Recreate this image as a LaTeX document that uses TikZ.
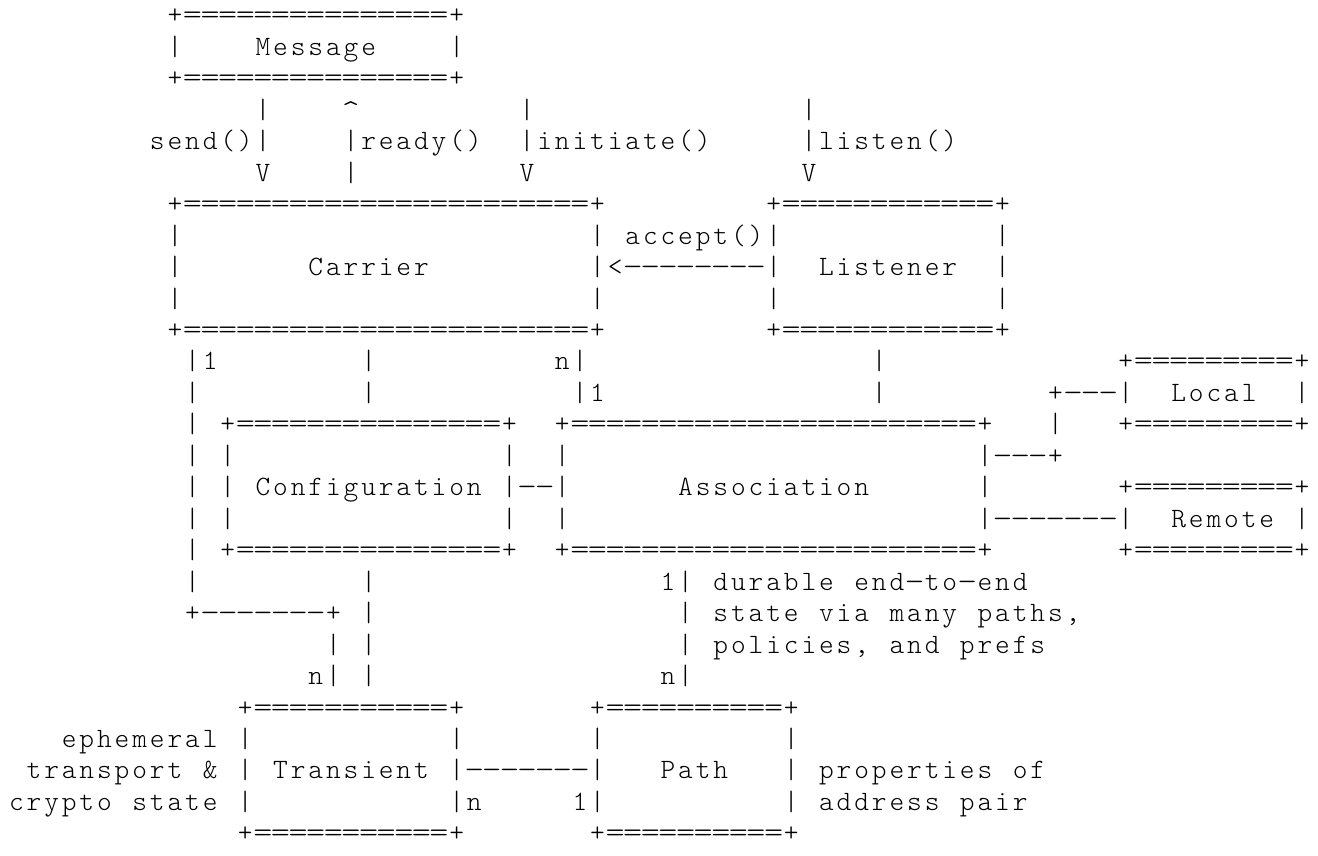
\documentclass[tikz,border=0pt]{standalone}
\usepackage{graphicx}
\usepackage{fontspec}
\newfontfamily\ascfont{lmmonolt10-regular.otf}
\tikzset{ch/.style={inner sep=0pt,outer sep=0pt,anchor=base,text=black,font=\ascfont\fontsize{28pt}{30pt}\selectfont}}
\newcommand\EQ{\scalebox{1.3}[1]{=}}
\newcommand\DS{\scalebox{1.35}[1]{-}}
\makeatletter
\newcommand\ascput[4][]{%
  \pgfmathsetmacro\asc@x{16.4+(#3)*17.61}%
  \pgfmathsetmacro\asc@y{-(23.9+((#2)-1)*31.46)}%
  \pgfmathtruncatemacro\asc@n{#3}%
  \node[ch,#1] (r#2c\asc@n) at (\asc@x pt,\asc@y pt) {#4};%
}
\newcommand\Tk[3]{%
  \def\asc@c{#2}%
  \@tfor\asc@ch:=#3\do{%
    \ascput{#1}{\asc@c}{\asc@ch}%
    \pgfmathtruncatemacro\asc@c{\asc@c+1}%
  }%
}
\newcommand\Rn[4]{%
  \foreach \asc@i in {#2,...,#3}{\ascput{#1}{\asc@i}{#4}}%
}
\newcommand\Bx[3]{%
  \ascput{#1}{#2}{+}%
  \pgfmathtruncatemacro\asc@a{#2+1}\pgfmathtruncatemacro\asc@b{#3-1}%
  \Rn{#1}{\asc@a}{\asc@b}{\EQ}%
  \ascput{#1}{#3}{+}%
}
\makeatother
\begin{document}
\begin{tikzpicture}
\fill[white] (0pt,0pt) rectangle (1318pt,-856pt);
\useasboundingbox (0pt,0pt) rectangle (1318pt,-856pt);
% Message
\Bx{1}{9}{25}
\ascput{2}{9}{|}\Tk{2}{14}{Message}\ascput{2}{25}{|}
\Bx{3}{9}{25}
\ascput{4}{14}{|}\ascput[yshift=-4pt]{4}{19}{\scalebox{1.2}{\textasciicircum}}\ascput{4}{29}{|}\ascput{4}{45}{|}
\Tk{5}{8}{send()|}\Tk{5}{19}{|ready()}\Tk{5}{29}{|initiate()}\Tk{5}{45}{|listen()}
\ascput{6}{14}{V}\ascput{6}{19}{|}\ascput{6}{29}{V}\ascput{6}{45}{V}
% Carrier and Listener
\Bx{7}{9}{33}\Bx{7}{43}{56}
\ascput{8}{9}{|}\ascput{8}{33}{|}\Tk{8}{35}{accept()|}\ascput{8}{56}{|}
\ascput{9}{9}{|}\Tk{9}{17}{Carrier}\ascput{9}{33}{|}\ascput{9}{34}{<}\Rn{9}{35}{42}{\DS}\ascput{9}{43}{|}\Tk{9}{46}{Listener}\ascput{9}{56}{|}
\ascput{10}{9}{|}\ascput{10}{33}{|}\ascput{10}{43}{|}\ascput{10}{56}{|}
\Bx{11}{9}{33}\Bx{11}{43}{56}
% links
\Tk{12}{10}{|1}\ascput{12}{20}{|}\Tk{12}{31}{n|}\ascput{12}{49}{|}\Bx{12}{63}{73}
\ascput{13}{10}{|}\ascput{13}{20}{|}\Tk{13}{32}{|1}\ascput{13}{49}{|}\ascput{13}{59}{+}\Rn{13}{60}{62}{\DS}\ascput{13}{63}{|}\Tk{13}{66}{Local}\ascput{13}{73}{|}
% Configuration and Association
\ascput{14}{10}{|}\Bx{14}{12}{28}\Bx{14}{31}{55}\ascput{14}{59}{|}\Bx{14}{63}{73}
\ascput{15}{10}{|}\ascput{15}{12}{|}\ascput{15}{28}{|}\ascput{15}{31}{|}\ascput{15}{55}{|}\Rn{15}{56}{58}{\DS}\ascput{15}{59}{+}
\ascput{16}{10}{|}\ascput{16}{12}{|}\Tk{16}{14}{Configuration}\ascput{16}{28}{|}\Rn{16}{29}{30}{\DS}\ascput{16}{31}{|}\Tk{16}{38}{Association}\ascput{16}{55}{|}\Bx{16}{63}{73}
\ascput{17}{10}{|}\ascput{17}{12}{|}\ascput{17}{28}{|}\ascput{17}{31}{|}\ascput{17}{55}{|}\Rn{17}{56}{62}{\DS}\ascput{17}{63}{|}\Tk{17}{66}{Remote}\ascput{17}{73}{|}
\ascput{18}{10}{|}\Bx{18}{12}{28}\Bx{18}{31}{55}\Bx{18}{63}{73}
% lower links
\ascput{19}{10}{|}\ascput{19}{20}{|}\Tk{19}{37}{1|}\Tk{19}{40}{durable}\Tk{19}{48}{end{\DS}to{\DS}end}
\ascput{20}{10}{+}\Rn{20}{11}{17}{\DS}\ascput{20}{18}{+}\ascput{20}{20}{|}\ascput{20}{38}{|}\Tk{20}{40}{state}\Tk{20}{46}{via}\Tk{20}{50}{many}\Tk{20}{55}{paths,}
\ascput{21}{18}{|}\ascput{21}{20}{|}\ascput{21}{38}{|}\Tk{21}{40}{policies,}\Tk{21}{50}{and}\Tk{21}{54}{prefs}
\Tk{22}{17}{n|}\ascput{22}{20}{|}\Tk{22}{37}{n|}
% Transient and Path
\Bx{23}{13}{25}\Bx{23}{33}{44}
\Tk{24}{3}{ephemeral}\ascput{24}{13}{|}\ascput{24}{25}{|}\ascput{24}{33}{|}\ascput{24}{44}{|}
\Tk{25}{1}{transport}\ascput{25}{11}{\&}\ascput{25}{13}{|}\Tk{25}{15}{Transient}\ascput{25}{25}{|}\Rn{25}{26}{32}{\DS}\ascput{25}{33}{|}\Tk{25}{37}{Path}\ascput{25}{44}{|}\Tk{25}{46}{properties}\Tk{25}{57}{of}
\Tk{26}{0}{crypto}\Tk{26}{7}{state}\ascput{26}{13}{|}\Tk{26}{25}{|n}\Tk{26}{32}{1|}\ascput{26}{44}{|}\Tk{26}{46}{address}\Tk{26}{54}{pair}
\Bx{27}{13}{25}\Bx{27}{33}{44}
\end{tikzpicture}
\end{document}
